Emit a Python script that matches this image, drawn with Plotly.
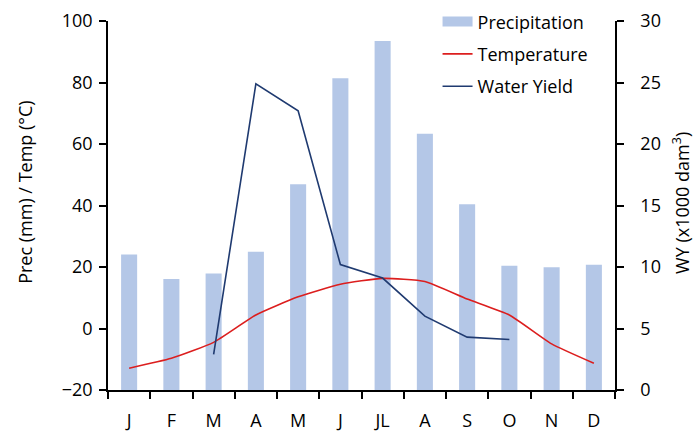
import plotly.graph_objects as go

months = ["J", "F", "M", "A", "M", "J", "JL", "A", "S", "O", "N", "D"]
# unique category keys (the labels repeat J, M and A)
cat_keys = [f"{i}" for i in range(12)]

precip_mm = [24.1, 16.1, 17.9, 25.0, 46.9, 81.4, 93.5, 63.3, 40.4, 20.4, 19.9, 20.7]
temp_c = [-12.9, -9.7, -4.5, 4.4, 10.3, 14.4, 16.3, 15.3, 9.6, 4.4, -5.0, -11.3]
water_yield = [None, None, 2.9, 24.9, 22.7, 10.2, 9.1, 6.0, 4.3, 4.1, None, None]

prec_axis_min = -20

FONT = "Open Sans"
TICK_FS = 18
TITLE_FS = 18
BAR_COLOR = "#B4C7E7"
TEMP_COLOR = "#DC1E1E"
WY_COLOR = "#1F3A70"

fig = go.Figure()

# bars rise from the bottom of the left axis (-20)
fig.add_trace(go.Bar(
    x=cat_keys, y=[v - prec_axis_min for v in precip_mm], base=prec_axis_min,
    name="Precipitation", marker=dict(color=BAR_COLOR, line=dict(width=0)),
    showlegend=False,
))
# wide flat legend key for the bars
fig.add_trace(go.Scatter(
    x=[None], y=[None], name="Precipitation", mode="lines",
    line=dict(color=BAR_COLOR, width=10), legendgroup="p",
))
fig.add_trace(go.Scatter(
    x=cat_keys, y=temp_c, name="Temperature", mode="lines",
    line=dict(color=TEMP_COLOR, width=1.6, shape="spline", smoothing=0.5),
    legendgroup="t",
))
fig.add_trace(go.Scatter(
    x=cat_keys, y=water_yield, name="Water Yield", mode="lines",
    line=dict(color=WY_COLOR, width=1.6), yaxis="y2",
    legendgroup="w",
))

axis_common = dict(
    showline=True, linecolor="black", linewidth=1.5,
    ticks="outside", ticklen=7, tickwidth=1.5, tickcolor="black",
    showgrid=False, zeroline=False, automargin=False,
    tickfont=dict(size=TICK_FS),
)

fig.update_layout(
    width=694, height=431,
    margin=dict(l=108, r=79, t=21, b=41, autoexpand=False),
    paper_bgcolor="white", plot_bgcolor="white",
    font=dict(family=FONT, size=TICK_FS, color="#000000"),
    bargap=0.62,
    showlegend=True,
    legend=dict(x=0.65, y=1.048, xanchor="left", yanchor="top",
                bgcolor="rgba(0,0,0,0)", font=dict(size=18),
                traceorder="grouped", tracegroupgap=6),
    xaxis=dict(
        type="category", tickmode="array", tickvals=cat_keys, ticktext=months,
        tickson="boundaries", range=[-0.5, 11.5], ticklabelstandoff=14,
        **axis_common,
    ),
    yaxis=dict(
        range=[-20, 100], dtick=20, tick0=-20, ticklabelstandoff=3,
        **axis_common,
    ),
    yaxis2=dict(
        range=[0, 30], dtick=5, overlaying="y", side="right",
        ticklabelstandoff=13,
        **axis_common,
    ),
    annotations=[
        dict(text="Prec (mm) / Temp (°C)", textangle=-90,
             xref="paper", yref="paper", x=0, y=0.537, xshift=-83,
             xanchor="center", yanchor="middle", showarrow=False,
             font=dict(size=TITLE_FS)),
        dict(text="WY (x1000 dam<sup>3</sup>)", textangle=-90,
             xref="paper", yref="paper", x=1, y=0.507, xshift=66,
             xanchor="center", yanchor="middle", showarrow=False,
             font=dict(size=TITLE_FS)),
    ],
)

fig.write_html("out.html")
